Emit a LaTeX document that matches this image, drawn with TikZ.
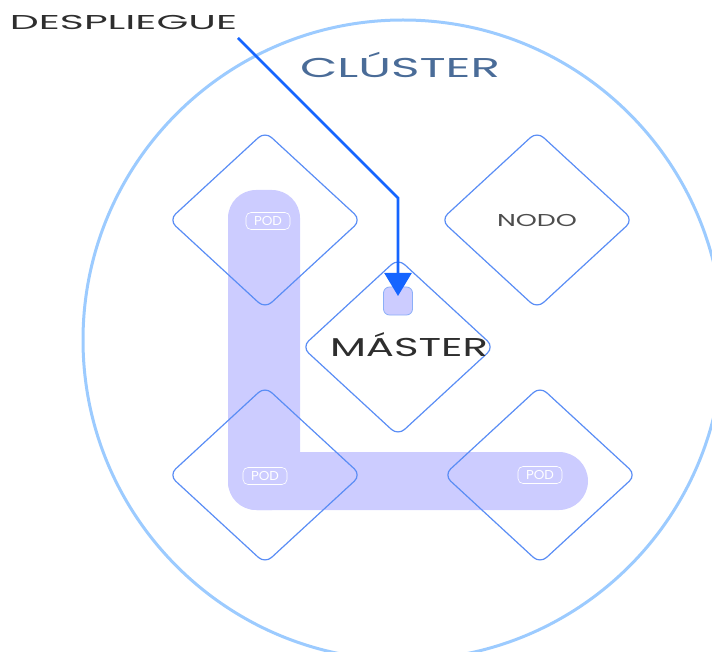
\documentclass[tikz,border=0pt]{standalone}
\usepackage{fontspec}
\setmainfont{Poppins}
\usepackage{graphicx}
\usetikzlibrary{arrows.meta,shapes.geometric}

\definecolor{ringblue}{HTML}{9CCBFF}
\definecolor{nodeblue}{HTML}{5A8DF5}
\definecolor{podfill}{HTML}{CCCCFF}
\definecolor{deployblue}{HTML}{1565FF}
\definecolor{clusterblue}{HTML}{4A6C98}
\definecolor{inkgray}{HTML}{2E2E2E}

% scale a word to a given width and cap height; accents stick out above
\newcommand\fittext[3]{\resizebox{#1}{#2}{\rule{0pt}{\fontcharht\font`H}\smash{#3}}}

\begin{document}
\begin{tikzpicture}[x=1pt,y=-1pt,
  every node/.style={inner sep=0pt, outer sep=0pt},
  ring/.style={draw=ringblue, line width=3pt},
  hostbox/.style={diamond, draw=nodeblue, line width=1.2pt, rounded corners=9pt,
                  minimum width=192pt, minimum height=177pt},
  podbar/.style={rectangle, fill=podfill},
  podtag/.style={draw=white, line width=0.6pt, rounded corners=5pt,
                 minimum width=44pt, minimum height=17pt, text=white},
  chipbox/.style={rectangle, fill=podfill, draw=nodeblue!70, line width=0.8pt,
                  rounded corners=6pt, minimum width=29pt, minimum height=28pt},
  deploy/.style={draw=deployblue, line width=2.6pt,
                 -{Triangle[width=27pt,length=23pt]}},
  label/.style={anchor=south west}
]
\useasboundingbox (0,0) rectangle (712,652);
\clip (0,0) rectangle (712,652);

% cluster ring
\draw[ring] (403,340) circle[radius=320pt];

% L-shaped band of pods
\node[podbar, rounded corners=28pt, minimum width=72pt, minimum height=320pt] (vbar) at (264,350) {};
\node[podbar, rounded corners=29pt, minimum width=360pt, minimum height=58pt] (hbar) at (408,481) {};

% cluster hosts
\node[hostbox] (hostA) at (265,220) {};
\node[hostbox] (hostB) at (537,220) {};
\node[hostbox] (master) at (398,347) {};
\node[hostbox] (hostC) at (265,475) {};
\node[hostbox] (hostD) at (540,475) {};

% pod tags
\node[podtag] (podA) at (268,221) {\fittext{28pt}{9pt}{POD}};
\node[podtag] (podC) at (265,476) {\fittext{28pt}{9pt}{POD}};
\node[podtag] (podD) at (540,475) {\fittext{28pt}{9pt}{POD}};

% pod on the master
\node[chipbox] (chip) at (398,301) {};

% titles
\node[label, text=inkgray] (deployLabel) at (10,30) {\fittext{227pt}{14pt}{DESPLIEGUE}};
\node[label, text=clusterblue] (clusterLabel) at (300,78) {\fittext{200pt}{19pt}{CLÚSTER}};
\node[label, text=inkgray] (masterLabel) at (330,356) {\fittext{158pt}{18pt}{MÁSTER}};
\node[label, text=inkgray!85] (nodoLabel) at (497,227) {\fittext{80pt}{12pt}{NODO}};

% deployment arrow
\coordinate (src) at (238,38);
\coordinate (bend) at (398,198);
\draw[deploy] (src) -- (bend) -- ([yshift=5pt]chip.center);
\end{tikzpicture}
\end{document}
